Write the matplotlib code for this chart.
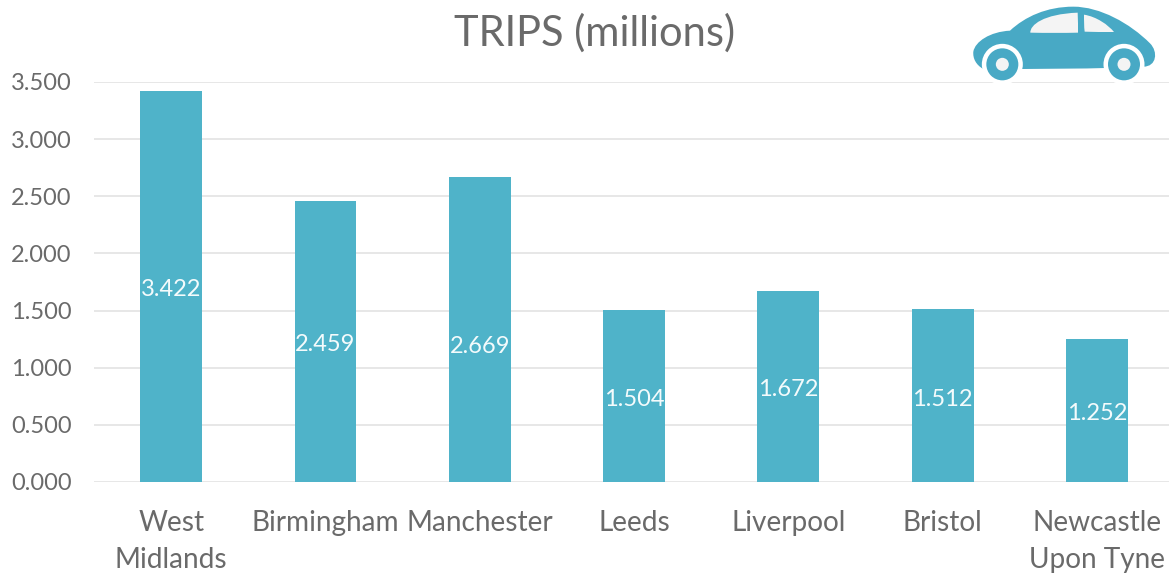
#!/usr/bin/env python3
"""Trips per city, bar chart with a small car icon."""

import matplotlib
matplotlib.use("Agg")
import matplotlib.pyplot as plt
from matplotlib.patches import Circle, PathPatch
from matplotlib.path import Path

cities = ["West\nMidlands", "Birmingham", "Manchester", "Leeds", "Liverpool", "Bristol", "Newcastle\nUpon Tyne"]
trips = [3.422, 2.459, 2.669, 1.504, 1.672, 1.512, 1.252]
y_ticks = [0, 0.5, 1, 1.5, 2, 2.5, 3, 3.5]

W, H = 1169, 573
BAR = "#4fb3c9"
CAR = "#48a9c5"
TEXT = "#6a6a6a"

plt.rcParams["font.family"] = ["Lato", "DejaVu Sans"]

fig = plt.figure(figsize=(W / 100, H / 100), dpi=100, facecolor="white")
ax = fig.add_axes([94 / W, 1 - 482 / H, (W - 94) / W, 400 / H])

x = list(range(len(cities)))
ax.bar(x, trips, width=0.4, color=BAR, zorder=2)
ax.set_xlim(-0.5, 6.467)
ax.set_ylim(0, 3.5)

ax.set_yticks(y_ticks)
ax.set_yticklabels([f"{v:.3f}" for v in y_ticks], fontsize=17, color=TEXT)
ax.set_xticks(x)
ax.set_xticklabels(cities, fontsize=20.2, color=TEXT, linespacing=1.55)
ax.tick_params(axis="both", length=0)
ax.tick_params(axis="y", pad=16)
ax.tick_params(axis="x", pad=20)
ax.grid(axis="y", color="#e0e0e0", linewidth=1.1, zorder=1)
ax.set_axisbelow(True)
for spine in ax.spines.values():
    spine.set_visible(False)

# etiquetas dentro das barras; a de Manchester fica mais baixa no original
for i, v in zip(x, trips):
    dy = -12 if cities[i] == "Manchester" else -2.5
    ax.annotate(f"{v:.3f}", (i, v / 2), xytext=(0, dy), textcoords="offset points",
                ha="center", va="center", color="#f4fbfc", fontsize=17, zorder=3)

fig.text(595 / W, 1 - 33 / H, "TRIPS (millions)", ha="center", va="center", fontsize=30, color=TEXT)

# icone do carro, em pixels da imagem
icon = fig.add_axes([0, 0, 1, 1], zorder=5)
icon.set_xlim(0, W)
icon.set_ylim(H, 0)
icon.axis("off")


def px(p):
    return (950 + p[0] / 3, p[1] / 3)


def shape(points, **kw):
    codes = [Path.MOVETO] + [Path.CURVE4] * (len(points) - 1)
    icon.add_patch(PathPatch(Path([px(p) for p in points], codes), linewidth=0, **kw))


shape([(100, 207), (78, 195), (68, 175), (70, 155),
       (75, 125), (120, 95), (180, 92),
       (225, 50), (290, 20), (370, 20),
       (450, 20), (540, 70), (600, 130),
       (625, 155), (620, 200), (580, 200),
       (450, 207), (250, 207), (100, 207)], facecolor=CAR)
shape([(241, 98), (240, 75), (280, 42), (383, 38),
       (384, 60), (384, 80), (384, 98),
       (340, 99), (290, 99), (241, 98)], facecolor="#f4f4f4")
shape([(402, 44), (440, 50), (475, 75), (492, 96),
       (460, 96), (430, 96), (404, 95),
       (402, 80), (402, 60), (402, 44)], facecolor="#f4f4f4")

for cx in (157, 522):
    cpx, cpy = px((cx, 193))
    icon.add_patch(Circle((cpx, cpy), 20.5, facecolor="white", linewidth=0))
    icon.add_patch(Circle((cpx, cpy), 16, facecolor=CAR, linewidth=0))
    icon.add_patch(Circle((cpx, cpy), 6.5, facecolor="#f4f4f4", linewidth=0))

fig.savefig("out.png", dpi=100)
